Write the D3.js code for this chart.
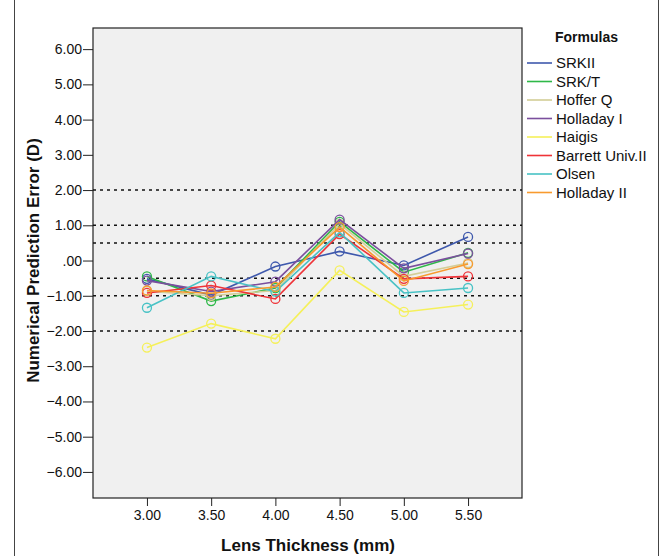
<!DOCTYPE html>
<meta charset="utf-8">
<style>
body { margin: 0; background: #fff; }
text { font-family: "Liberation Sans", Arial, sans-serif; }
.tick text { font-size: 14px; fill: #111; }
.axis path { stroke: #222; }
.axis line { stroke: #222; }
</style>
<svg width="662" height="556"></svg>
<script src="https://cdn.jsdelivr.net/npm/d3@7"></script>
<script>
// lens thickness groups and mean numerical prediction error per formula
var thickness = [3.0, 3.5, 4.0, 4.5, 5.0, 5.5];
var formulas = ["SRKII", "SRK/T", "Hoffer Q", "Holladay I", "Haigis", "Barrett Univ.II", "Olsen", "Holladay II"];
var colors = ["#3e58ac", "#2eb848", "#d3ce97", "#7b4f9d", "#f5f05a", "#ef3338", "#48c2c5", "#f89a2e"];

var srk2       = [-0.52, -0.98, -0.17, 0.26, -0.14, 0.67];
var srkt       = [-0.45, -1.15, -0.78, 1.10, -0.33, 0.22];
var hofferq    = [-0.87, -1.00, -0.85, 1.04, -0.45, -0.07];
var holladay1  = [-0.57, -0.88, -0.60, 1.16, -0.22, 0.20];
var haigis     = [-2.47, -1.79, -2.22, -0.28, -1.46, -1.25];
var barrett    = [-0.92, -0.71, -1.09, 0.75, -0.52, -0.45];
var olsen      = [-1.34, -0.45, -0.88, 0.80, -0.92, -0.78];
var holladay2  = [-0.85, -0.93, -0.75, 0.95, -0.58, -0.10];
var seriesValues = [srk2, srkt, hofferq, holladay1, haigis, barrett, olsen, holladay2];

var yTicks = [6, 5, 4, 3, 2, 1, 0, -1, -2, -3, -4, -5, -6];
var refLines = [2, 1, 0.5, -0.5, -1, -2];

var svg = d3.select("svg");

// outer frame (top and bottom edges fall outside the picture)
svg.append("rect")
    .attr("x", 14.5).attr("y", -5)
    .attr("width", 644).attr("height", 570)
    .attr("fill", "none").attr("stroke", "#444").attr("stroke-width", 1);

var plot = {left: 93, right: 522, top: 28, bottom: 498};

var x = d3.scaleLinear().domain([2.58, 5.92]).range([plot.left, plot.right]);
var y = d3.scaleLinear().domain([-6.74, 6.6]).range([plot.bottom, plot.top]);

svg.append("rect")
    .attr("x", plot.left).attr("y", plot.top)
    .attr("width", plot.right - plot.left).attr("height", plot.bottom - plot.top)
    .attr("fill", "#f0f0f0").attr("stroke", "#222").attr("stroke-width", 1.2);

function fmt(d) {
  var s = d3.format(".2f")(d);
  return s.replace(/^0\./, ".").replace(/^-0\./, "-.");
}

svg.append("g")
    .attr("class", "axis")
    .attr("transform", "translate(" + plot.left + ",0)")
    .call(d3.axisLeft(y).tickValues(yTicks).tickFormat(fmt).tickSize(10).tickPadding(1))
    .call(function(g) { g.select(".domain").remove(); });

svg.append("g")
    .attr("class", "axis")
    .attr("transform", "translate(0," + plot.bottom + ")")
    .call(d3.axisBottom(x).tickValues(thickness).tickFormat(d3.format(".2f")).tickSize(8).tickPadding(4))
    .call(function(g) { g.select(".domain").remove(); });

// reference lines
svg.append("g").selectAll("line")
    .data(refLines)
    .enter().append("line")
      .attr("x1", plot.left).attr("x2", plot.right)
      .attr("y1", function(d) { return y(d); })
      .attr("y2", function(d) { return y(d); })
      .attr("stroke", "#111")
      .attr("stroke-width", 1.5)
      .attr("stroke-dasharray", "3,4");

var line = d3.line()
    .x(function(d, i) { return x(thickness[i]); })
    .y(function(d) { return y(d); });

var series = svg.append("g").selectAll(".formula")
    .data(seriesValues)
    .enter().append("g")
      .attr("class", "formula");

series.append("path")
    .attr("d", function(d) { return line(d); })
    .attr("fill", "none")
    .attr("stroke", function(d, i) { return colors[i]; })
    .attr("stroke-width", 1.6);

series.each(function(d, i) {
  d3.select(this).selectAll("circle")
    .data(d)
    .enter().append("circle")
      .attr("cx", function(v, j) { return x(thickness[j]); })
      .attr("cy", function(v) { return y(v); })
      .attr("r", 4.5)
      .attr("fill", "none")
      .attr("stroke", colors[i])
      .attr("stroke-width", 1.3);
});

// axis titles
svg.append("text")
    .attr("x", 308)
    .attr("y", 551)
    .attr("text-anchor", "middle")
    .style("font-size", "17px")
    .style("font-weight", "bold")
    .attr("fill", "#111")
    .text("Lens Thickness (mm)");

svg.append("text")
    .attr("transform", "translate(39," + y(0) + ") rotate(-90)")
    .attr("text-anchor", "middle")
    .style("font-size", "17px")
    .style("font-weight", "bold")
    .attr("fill", "#111")
    .text("Numerical Prediction Error (D)");

// legend
var legend = svg.append("g");
legend.append("text")
    .attr("x", 555).attr("y", 42)
    .style("font-size", "14px")
    .style("font-weight", "bold")
    .attr("fill", "#111")
    .text("Formulas");

var item = legend.selectAll(".item")
    .data(formulas)
    .enter().append("g")
      .attr("transform", function(d, i) { return "translate(0," + (63 + i * 18.5) + ")"; });

item.append("line")
    .attr("x1", 527).attr("x2", 552)
    .attr("stroke", function(d, i) { return colors[i]; })
    .attr("stroke-width", 1.6);

item.append("text")
    .attr("x", 556).attr("dy", "0.35em")
    .style("font-size", "15px")
    .attr("fill", "#111")
    .text(function(d) { return d; });
</script>
